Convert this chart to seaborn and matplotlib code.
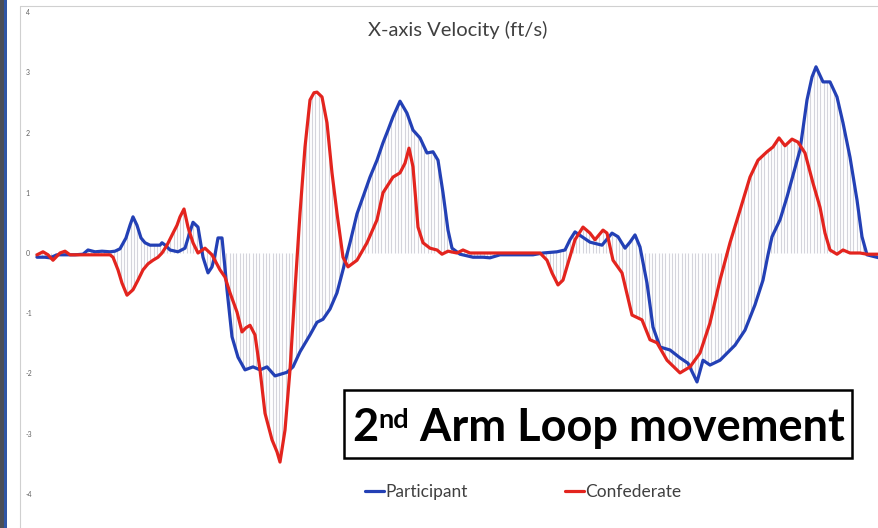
import numpy as np
import pandas as pd
import matplotlib
matplotlib.use("Agg")
import matplotlib.pyplot as plt
from matplotlib.patches import Rectangle
from matplotlib.lines import Line2D
import seaborn as sns

# X-axis hand velocity (ft/s) per capture frame
participant_frame = [2, 10, 15, 22, 30, 40, 48, 53, 60, 67, 75, 80, 85, 91, 95, 98, 102, 106,
                     110, 115, 120, 125, 127, 131, 135, 143, 150, 154, 158, 163, 168, 173, 177,
                     180, 183, 187, 190, 192, 197, 203, 210, 218, 225, 232, 240, 252, 258, 265,
                     275, 282, 288, 295, 302, 308, 315, 322, 328, 335, 342, 348, 353, 358, 365,
                     372, 378, 385, 392, 398, 403, 408, 413, 417, 425, 438, 448, 455, 465, 480,
                     498, 508, 522, 530, 535, 540, 547, 555, 567, 577, 583, 590, 595, 600, 605,
                     612, 618, 625, 635, 645, 653, 662, 668, 675, 685, 700, 710, 720, 728, 733,
                     737, 745, 752, 760, 765, 772, 777, 781, 788, 795, 802, 808, 815, 822, 827,
                     832, 844]
participant_vel = [-0.07, -0.07, -0.08, -0.03, -0.03, -0.03, -0.02, 0.05, 0.02, 0.03, 0.02, 0.03,
                   0.07, 0.25, 0.46, 0.60, 0.46, 0.25, 0.17, 0.13, 0.13, 0.13, 0.17, 0.12, 0.05,
                   0.02, 0.08, 0.30, 0.51, 0.43, -0.07, -0.33, -0.23, -0.03, 0.25, 0.25, -0.25,
                   -0.61, -1.39, -1.73, -1.94, -1.89, -1.94, -1.89, -2.04, -1.98, -1.89, -1.64,
                   -1.36, -1.15, -1.10, -0.93, -0.66, -0.28, 0.17, 0.65, 0.93, 1.26, 1.54, 1.83,
                   2.04, 2.26, 2.52, 2.32, 2.04, 1.91, 1.66, 1.68, 1.54, 1.00, 0.38, 0.08, -0.02,
                   -0.07, -0.07, -0.08, -0.03, -0.03, -0.03, 0.00, 0.02, 0.05, 0.22, 0.35, 0.27,
                   0.18, 0.13, 0.33, 0.27, 0.08, 0.18, 0.30, 0.10, -0.50, -1.23, -1.56, -1.61,
                   -1.74, -1.83, -2.14, -1.78, -1.86, -1.78, -1.53, -1.28, -0.86, -0.45, -0.03,
                   0.27, 0.55, 0.93, 1.41, 1.71, 2.54, 2.92, 3.09, 2.84, 2.84, 2.59, 2.16, 1.59,
                   0.88, 0.27, -0.03, -0.08]

confederate_frame = [2, 8, 13, 18, 25, 30, 35, 45, 55, 65, 75, 78, 83, 87, 92, 98, 103, 108, 113,
                     118, 123, 127, 132, 138, 142, 145, 149, 153, 158, 163, 170, 177, 185, 190,
                     195, 202, 207, 211, 215, 220, 225, 230, 237, 242, 245, 250, 255, 260, 265,
                     270, 275, 279, 282, 287, 292, 297, 302, 308, 313, 322, 332, 342, 348, 358,
                     365, 370, 374, 378, 383, 388, 395, 402, 407, 413, 422, 428, 435, 465, 505,
                     512, 517, 523, 528, 533, 540, 548, 555, 560, 568, 572, 578, 587, 597, 607,
                     615, 622, 632, 645, 655, 665, 675, 685, 695, 705, 715, 723, 732, 738, 744,
                     750, 757, 763, 770, 778, 785, 790, 795, 802, 808, 815, 825, 832, 844]
confederate_vel = [-0.03, 0.02, -0.03, -0.12, 0.00, 0.03, -0.03, -0.03, -0.03, -0.03, -0.03, -0.07,
                   -0.28, -0.50, -0.70, -0.61, -0.45, -0.28, -0.18, -0.12, -0.07, 0.00, 0.13, 0.33,
                   0.46, 0.60, 0.73, 0.43, 0.17, 0.00, 0.08, -0.03, -0.28, -0.40, -0.66, -0.98,
                   -1.31, -1.24, -1.20, -1.36, -1.94, -2.66, -3.10, -3.30, -3.47, -2.94, -1.94,
                   -0.61, 0.66, 1.76, 2.54, 2.66, 2.67, 2.59, 2.16, 1.33, 0.66, -0.07, -0.23,
                   -0.12, 0.17, 0.55, 1.00, 1.26, 1.33, 1.49, 1.74, 1.43, 0.43, 0.17, 0.08, 0.05,
                   -0.02, 0.03, 0.00, 0.05, 0.00, 0.00, 0.00, -0.12, -0.33, -0.53, -0.45, -0.17,
                   0.22, 0.43, 0.33, 0.22, 0.38, 0.33, -0.12, -0.33, -1.03, -1.11, -1.44, -1.49,
                   -1.78, -1.99, -1.89, -1.66, -1.16, -0.45, 0.17, 0.71, 1.26, 1.54, 1.68, 1.76,
                   1.91, 1.78, 1.89, 1.84, 1.66, 1.16, 0.76, 0.33, 0.05, -0.02, 0.05, 0.00, 0.00,
                   -0.02, -0.02]

series_names = ["Participant", "Confederate"]
series_colors = ["#2340b5", "#e3241e"]
y_ticks = [-4, -3, -2, -1, 0, 1, 2, 3, 4]
chart_title = "X-axis Velocity (ft/s)"

df = pd.concat([
    pd.DataFrame({"frame": participant_frame, "vel": participant_vel, "series": series_names[0]}),
    pd.DataFrame({"frame": confederate_frame, "vel": confederate_vel, "series": series_names[1]}),
], ignore_index=True)

sns.set_theme(style="white")
plt.rcParams["font.family"] = ["Lato", "DejaVu Sans"]

W, H = 879, 528
fig = plt.figure(figsize=(W / 100, H / 100), dpi=100)
fig.patch.set_facecolor("white")
ax = fig.add_axes([20 / W, (H - 494) / H, (W - 20) / W, 482 / H])

# high-low connectors spanning zero and both series
grid = np.arange(0, max(participant_frame), 3.3)
p_i = np.interp(grid, participant_frame, participant_vel)
c_i = np.interp(grid, confederate_frame, confederate_vel)
lo = np.minimum(0, np.minimum(p_i, c_i))
hi = np.maximum(0, np.maximum(p_i, c_i))
ax.vlines(grid, lo, hi, color="#d5d5dc", lw=0.8, zorder=1)

sns.lineplot(data=df, x="frame", y="vel", hue="series", hue_order=series_names,
             palette=dict(zip(series_names, series_colors)), estimator=None, sort=False,
             lw=2.3, legend=False, ax=ax, zorder=3)
for ln in ax.get_lines():
    ln.set_solid_joinstyle("round")
    ln.set_solid_capstyle("round")

ax.set_xlim(-15, 844)
ax.set_ylim(-4, 4)
ax.set_xticks([])
ax.set_yticks(y_ticks)
ax.set_yticklabels([str(v) for v in y_ticks])
ax.tick_params(axis="y", length=0, pad=-4, labelsize=5, labelcolor="#606060")
for lab in ax.get_yticklabels():
    lab.set_ha("left")
ax.set_xlabel("")
ax.set_ylabel("")
for s in ax.spines.values():
    s.set_visible(False)
ax.patch.set_alpha(0)

# slide edge and chart border
fig.add_artist(Rectangle((0, 0), 4 / W, 1, transform=fig.transFigure, color="#4a4e57", lw=0))
fig.add_artist(Rectangle((4 / W, 0), 3 / W, 1, transform=fig.transFigure, color="#2f56a6", lw=0))
fig.add_artist(Line2D([20 / W, 20 / W], [0, 1 - 6 / H], color="#d0d0d0", lw=0.8))
fig.add_artist(Line2D([20 / W, 1], [1 - 6 / H, 1 - 6 / H], color="#d0d0d0", lw=0.8))

fig.text(458 / W, 1 - 30 / H, chart_title, ha="center", va="center", fontsize=14.5, color="#404040")

handles = [Line2D([], [], color=c, lw=2.3) for c in series_colors]
fig.legend(handles, series_names, loc="center", bbox_to_anchor=(523 / W, 1 - 492 / H), ncol=2,
           frameon=False, handlelength=1.1, handletextpad=0.05, columnspacing=5.6,
           fontsize=12.5, labelcolor="#404040")

# caption box
ax.add_patch(Rectangle((344 / W, 1 - 458 / H), (852 - 344) / W, (458 - 390) / H,
                       transform=fig.transFigure, facecolor="white", edgecolor="black",
                       lw=1.8, clip_on=False, zorder=5))
t1 = ax.text(352 / W, 1 - 441 / H, "2", transform=fig.transFigure, fontsize=32.5,
             fontweight="bold", color="black", va="baseline", ha="left", zorder=6)
t2 = ax.annotate("nd", xy=(1, 1), xycoords=t1, xytext=(0, -1), textcoords="offset points",
                 va="top", ha="left", fontsize=19.5,
                 fontweight="bold", color="black", zorder=6, annotation_clip=False)
ax.annotate(" Arm Loop movement", xy=(1, 0), xycoords=(t2, t1), va="bottom", ha="left",
            fontsize=32.5, fontweight="bold", color="black", zorder=6, annotation_clip=False)

fig.savefig("out.png", dpi=100)
